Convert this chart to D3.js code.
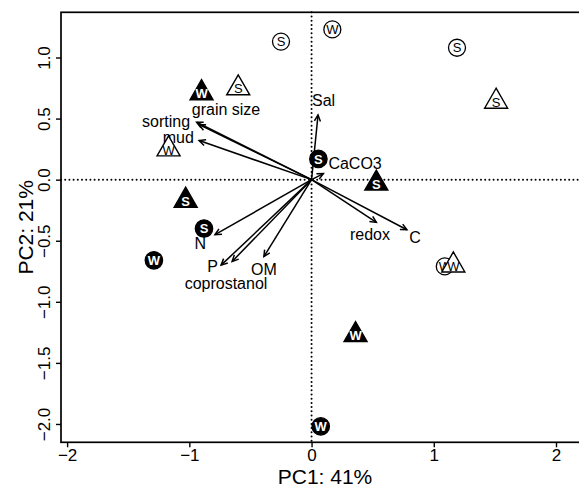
<!DOCTYPE html>
<html>
<head>
<meta charset="utf-8">
<script src="https://cdn.jsdelivr.net/npm/d3@7"></script>
<style>
  body { margin: 0; background: #fff; }
  svg { display: block; font-family: "Liberation Sans", Arial, sans-serif; }
</style>
</head>
<body>
<div id="biplot"></div>
<script>
// sample scores (PC1, PC2), symbol shape, fill and season letter
const sampleX     = [0.056, -0.88, -1.29, 0.075, -0.25, 0.17, 1.19, 1.09, -0.90, -1.03, 0.53, 0.36, -0.60, -1.17, 1.51, 1.16];
const sampleY     = [0.17, -0.40, -0.66, -2.02, 1.13, 1.23, 1.08, -0.71, 0.72, -0.16, -0.02, -1.26, 0.76, 0.26, 0.65, -0.69];
const sampleShape = ["circle", "circle", "circle", "circle", "circle", "circle", "circle", "circle",
                     "triangle", "triangle", "triangle", "triangle", "triangle", "triangle", "triangle", "triangle"];
const sampleFill  = [true, true, true, true, false, false, false, false, true, true, true, true, false, false, false, false];
const sampleText  = ["S", "S", "W", "W", "S", "W", "S", "W", "W", "S", "S", "W", "S", "W", "S", "W"];

// variable loadings (arrow tips) and label spots
const varNames  = ["grain size", "sorting", "mud", "Sal", "CaCO3", "redox", "C", "N", "P", "coprostanol", "OM"];
const varX      = [-0.92, -0.94, -0.92, 0.053, 0.097, 0.53, 0.78, -0.79, -0.74, -0.65, -0.39];
const varY      = [0.45, 0.47, 0.32, 0.53, 0.05, -0.35, -0.41, -0.45, -0.70, -0.67, -0.63];
const labelX    = [-0.70, -1.19, -1.09, 0.098, 0.356, 0.478, 0.846, -0.91, -0.81, -0.70, -0.39];
const labelY    = [0.576, 0.478, 0.347, 0.65, 0.135, -0.446, -0.47, -0.52, -0.71, -0.85, -0.73];

const xTicks = [-2, -1, 0, 1, 2];
const yTicks = [1.0, 0.5, 0.0, -0.5, -1.0, -1.5, -2.0];

const W = 579, H = 487;
const frame = {left: 61, top: 12.3, right: 589, bottom: 442.3};

const svg = d3.select("#biplot")
    .append("svg")
    .attr("width", W)
    .attr("height", H);

const x = d3.scaleLinear().domain([-2.05, 2.27]).range([frame.left, frame.right]);
const y = d3.scaleLinear().domain([-2.15, 1.37]).range([frame.bottom, frame.top]);

// dotted zero lines
svg.append("line")
    .attr("x1", frame.left).attr("x2", frame.right)
    .attr("y1", y(0)).attr("y2", y(0))
    .attr("stroke", "#000").attr("stroke-width", 2)
    .attr("stroke-linecap", "round")
    .attr("stroke-dasharray", "0,4.2");
svg.append("line")
    .attr("x1", x(0)).attr("x2", x(0))
    .attr("y1", frame.top).attr("y2", frame.bottom)
    .attr("stroke", "#000").attr("stroke-width", 2)
    .attr("stroke-linecap", "round")
    .attr("stroke-dasharray", "0,4.2");

// frame
svg.append("rect")
    .attr("x", frame.left).attr("y", frame.top)
    .attr("width", frame.right - frame.left)
    .attr("height", frame.bottom - frame.top)
    .attr("fill", "none").attr("stroke", "#000").attr("stroke-width", 1.7);

// x axis
svg.append("g")
    .attr("transform", `translate(0,${frame.bottom})`)
    .call(d3.axisBottom(x).tickValues(xTicks).tickSize(5).tickPadding(2).tickFormat(d3.format("d")))
    .call(g => g.select(".domain").remove())
    .call(g => g.selectAll("line").attr("stroke-width", 1.4))
    .call(g => g.selectAll("text").attr("font-size", 17).attr("font-family", null).attr("fill", "#000"));

// y axis, rotated labels
const yAxis = svg.append("g")
    .attr("transform", `translate(${frame.left},0)`)
    .call(d3.axisLeft(y).tickValues(yTicks).tickSize(5).tickFormat(d3.format(".1f")))
    .call(g => g.select(".domain").remove())
    .call(g => g.selectAll("line").attr("stroke-width", 1.4));
yAxis.selectAll("text")
    .attr("font-size", 17).attr("font-family", null).attr("fill", "#000")
    .attr("x", null).attr("dy", null)
    .attr("text-anchor", "middle")
    .attr("transform", "translate(-11,0) rotate(-90)");

// axis titles
svg.append("text")
    .attr("x", (frame.left + frame.right) / 2)
    .attr("y", 484)
    .attr("text-anchor", "middle")
    .attr("font-size", 21)
    .text("PC1: 41%");
svg.append("text")
    .attr("transform", `translate(33,${(frame.top + frame.bottom) / 2}) rotate(-90)`)
    .attr("text-anchor", "middle")
    .attr("font-size", 21)
    .text("PC2: 21%");

// loading arrows
const arrows = svg.append("g");
varNames.forEach(function (name, i) {
    const x0 = x(0), y0 = y(0), x1 = x(varX[i]), y1 = y(varY[i]);
    const ang = Math.atan2(y1 - y0, x1 - x0);
    const len = 7, spread = Math.PI / 7;
    arrows.append("line")
        .attr("x1", x0).attr("y1", y0).attr("x2", x1).attr("y2", y1)
        .attr("stroke", "#000").attr("stroke-width", 1.5);
    arrows.append("path")
        .attr("d", `M${x1 - len * Math.cos(ang - spread)},${y1 - len * Math.sin(ang - spread)}` +
                   `L${x1},${y1}` +
                   `L${x1 - len * Math.cos(ang + spread)},${y1 - len * Math.sin(ang + spread)}`)
        .attr("fill", "none").attr("stroke", "#000").attr("stroke-width", 1.5);
    arrows.append("text")
        .attr("x", x(labelX[i]))
        .attr("y", y(labelY[i]))
        .attr("dy", "0.36em")
        .attr("text-anchor", "middle")
        .attr("font-size", 16)
        .text(name);
});

// sample symbols
const pts = svg.append("g");
sampleX.forEach(function (sx, i) {
    const cx = x(sx), cy = y(sampleY[i]);
    const filled = sampleFill[i];
    if (sampleShape[i] === "circle") {
        pts.append("circle")
            .attr("cx", cx).attr("cy", cy).attr("r", filled ? 8.7 : 8.5)
            .attr("fill", filled ? "#000" : "#fff")
            .attr("stroke", "#000").attr("stroke-width", 1.3);
        pts.append("text")
            .attr("x", cx).attr("y", cy).attr("dy", "0.36em")
            .attr("text-anchor", "middle")
            .attr("font-size", 13).attr("font-weight", filled ? "bold" : "normal")
            .attr("fill", filled ? "#fff" : "#000")
            .text(sampleText[i]);
    } else {
        pts.append("path")
            .attr("d", `M${cx},${cy - 12}L${cx - 11.5},${cy + 8}L${cx + 11.5},${cy + 8}Z`)
            .attr("fill", filled ? "#000" : "#fff")
            .attr("stroke", "#000").attr("stroke-width", 1.4)
            .attr("stroke-linejoin", "miter");
        pts.append("text")
            .attr("x", cx).attr("y", cy + 2).attr("dy", "0.36em")
            .attr("text-anchor", "middle")
            .attr("font-size", 13).attr("font-weight", filled ? "bold" : "normal")
            .attr("fill", filled ? "#fff" : "#000")
            .text(sampleText[i]);
    }
});
</script>
</body>
</html>
